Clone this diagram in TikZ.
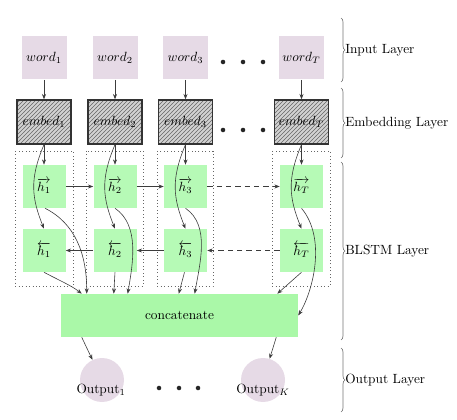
\documentclass[tikz,border=0pt]{standalone}
\usetikzlibrary{arrows.meta,patterns,decorations.pathreplacing,calc}
\definecolor{wordc}{RGB}{230,218,230}
\definecolor{hc}{RGB}{182,250,182}
\definecolor{cc}{RGB}{170,248,168}
\definecolor{linec}{RGB}{60,60,60}
\begin{document}
\begin{tikzpicture}[x=0.75pt,y=-0.75pt,
  wordbox/.style={fill=wordc, minimum width=33.75pt, minimum height=32.25pt, inner sep=0pt},
  embbox/.style={preaction={fill=gray!35}, pattern=north east lines, pattern color=black!60,
                 draw=black!80, line width=1pt, minimum width=40.5pt, minimum height=33pt, inner sep=0pt},
  hbox/.style={fill=hc, minimum width=32.25pt, minimum height=32.25pt, inner sep=0pt},
  catbox/.style={fill=cc, minimum width=177.75pt, minimum height=32.25pt, inner sep=0pt},
  outc/.style={circle, fill=wordc, minimum size=33pt, inner sep=0pt},
  colbox/.style={draw=black!60, dotted, line width=0.6pt},
  arr/.style={-{Stealth[length=4pt,width=3pt]}, draw=linec, line width=0.45pt},
  brc/.style={decorate, decoration={brace, amplitude=3pt}, draw=black!55, line width=0.5pt},
  dotc/.style={fill=black!85},
  lab/.style={anchor=west, inner sep=0pt}
]
\useasboundingbox (0,0) rectangle (457,420);

% column dotted boxes
\draw[colbox] (15,151) rectangle (73,286);
\draw[colbox] (86,151) rectangle (143,286);
\draw[colbox] (157,151) rectangle (213,286);
\draw[colbox] (272,151) rectangle (330,286);

% input words
\node[wordbox] (w1) at (44,58) {$word_1$};
\node[wordbox] (w2) at (115,58) {$word_2$};
\node[wordbox] (w3) at (185.5,58) {$word_3$};
\node[wordbox] (wT) at (301.5,58) {$word_T$};

% embeddings
\node[embbox] (e1) at (44,122) {$embed_1$};
\node[embbox] (e2) at (115,122) {$embed_2$};
\node[embbox] (e3) at (185.5,122) {$embed_3$};
\node[embbox] (eT) at (301.5,122) {$embed_T$};

% forward states
\node[hbox] (f1) at (44,186.5) {$\overrightarrow{h_1}$};
\node[hbox] (f2) at (115,186.5) {$\overrightarrow{h_2}$};
\node[hbox] (f3) at (185.5,186.5) {$\overrightarrow{h_3}$};
\node[hbox] (fT) at (301.5,186.5) {$\overrightarrow{h_T}$};

% backward states
\node[hbox] (b1) at (44,250.5) {$\overleftarrow{h_1}$};
\node[hbox] (b2) at (115,250.5) {$\overleftarrow{h_2}$};
\node[hbox] (b3) at (185.5,250.5) {$\overleftarrow{h_3}$};
\node[hbox] (bT) at (301.5,250.5) {$\overleftarrow{h_T}$};

% concatenate
\node[catbox] (cat) at (179.5,315.5) {concatenate};

% outputs
\node[outc] (o1) at (102,380) {};
\node[outc] (oK) at (263,380) {};
\node (o1t) at (101,390) {Output$_1$};
\node (oKt) at (263,390) {Output$_K$};

% dots
\foreach \x in {223,243,263}{
  \fill[dotc] (\x,62) circle (1.7pt);
  \fill[dotc] (\x,130) circle (1.7pt);
}
\foreach \x in {159,179,198}{
  \fill[dotc] (\x,388) circle (1.7pt);
}

% word -> embed, embed -> forward
\foreach \c in {1,2,3,T}{
  \draw[arr] (w\c) -- (e\c);
  \draw[arr] (e\c) -- (f\c);
  \draw[arr] (e\c.south) .. controls +(-15,35) and +(-12,-30) .. (b\c.north);
}

% horizontal recurrences
\draw[arr] (f1) -- (f2);
\draw[arr] (f2) -- (f3);
\draw[arr, dash pattern=on 4pt off 3pt] (f3) -- (fT);
\draw[arr] (b2) -- (b1);
\draw[arr] (b3) -- (b2);
\draw[arr, dash pattern=on 4pt off 3pt] (bT) -- (b3);

% forward -> concatenate
\draw[arr] ($(f1.south)+(1,0)$) .. controls +(30,15) and +(0,-40) .. ($(cat.north west)+(26,0)$);
\draw[arr] (f2.south) .. controls +(25,17) and +(5,-30) .. ($(cat.north west)+(67,0)$);
\draw[arr] (f3.south) .. controls +(25,17) and +(5,-30) .. ($(cat.north west)+(134,0)$);
\draw[arr] (fT.south) .. controls +(25,30) and +(15,-25) .. (cat.east);

% backward -> concatenate
\draw[arr] (b1.south) .. controls +(15,8) and +(-10,-8) .. ($(cat.north west)+(21,0)$);
\draw[arr] (b2.south) -- ($(cat.north west)+(53,0)$);
\draw[arr] ($(b3.south)+(-1,0)$) -- ($(cat.north west)+(118,0)$);
\draw[arr] (bT.south) -- ($(cat.north east)+(-21,0)$);

% concatenate -> outputs
\draw[arr] ($(cat.south west)+(21,0)$) -- (o1);
\draw[arr] ($(cat.south east)+(-22,0)$) -- (oK);

% braces
\draw[brc] (341,18) -- (341,82);
\draw[brc] (341,88) -- (341,158);
\draw[brc] (341,162) -- (341,340);
\draw[brc] (341,348) -- (341,412);
\node[lab] (lin) at (345,50) {Input Layer};
\node[lab] (lemb) at (345,123) {Embedding Layer};
\node[lab] (lbl) at (345,251) {BLSTM Layer};
\node[lab] (lout) at (345,380) {Output Layer};
\end{tikzpicture}
\end{document}
